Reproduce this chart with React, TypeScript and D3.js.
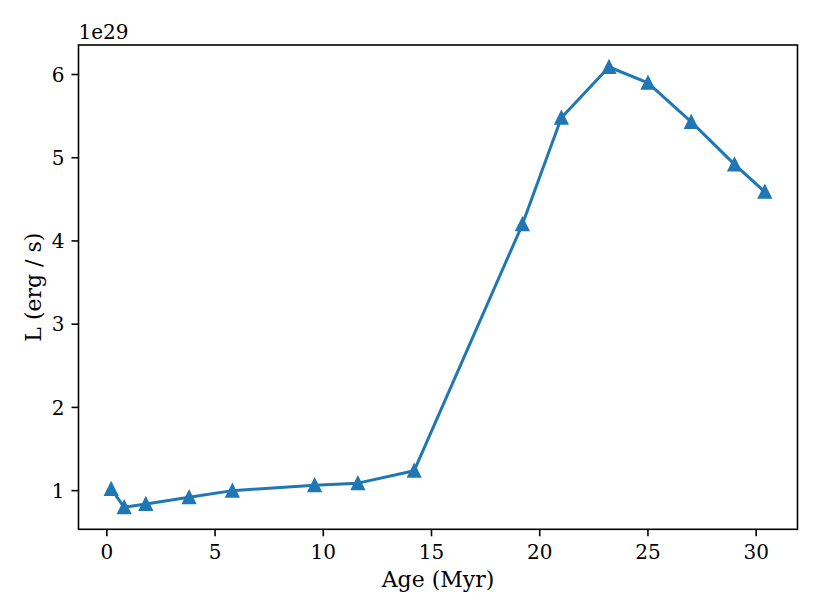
import React from "react";
import * as d3 from "d3";

const ages = [0.2, 0.8, 1.8, 3.8, 5.8, 9.6, 11.6, 14.2, 19.2, 21.0, 23.2, 25.0, 27.0, 29.0, 30.4];
const lum = [1.02, 0.8, 0.84, 0.92, 1.0, 1.065, 1.09, 1.24, 4.2, 5.48, 6.09, 5.9, 5.43, 4.92, 4.59];
const xTicks = [0, 5, 10, 15, 20, 25, 30];
const yTicks = [1, 2, 3, 4, 5, 6];

const W = 822, H = 616;
const L = 78.5, R = 797.5, T = 45, B = 529.3;
const font = "'DejaVu Serif', serif";
const color = "#1f77b4";

export default function App() {
  const xMin = d3.min(ages)!, xMax = d3.max(ages)!;
  const yMin = d3.min(lum)!, yMax = d3.max(lum)!;
  const xm = (xMax - xMin) * 0.05, ym = (yMax - yMin) * 0.05;
  const x = d3.scaleLinear().domain([xMin - xm, xMax + xm]).range([L, R]);
  const y = d3.scaleLinear().domain([yMin - ym, yMax + ym]).range([B, T]);
  const pts = ages.map((a, i) => [a, lum[i]] as [number, number]);
  const line = d3.line<[number, number]>().x(d => x(d[0])).y(d => y(d[1]));
  return (
    <svg width={W} height={H} style={{ position: "absolute", left: 0, top: 0 }}>
      <rect width={W} height={H} fill="white" />
      <path d={line(pts)!} fill="none" stroke={color} strokeWidth={3} strokeLinejoin="round" strokeLinecap="square" />
      {pts.map((d, i) => (
        <path key={i} transform={`translate(${x(d[0])},${y(d[1])})`} d="M0,-6L-6,6L6,6Z" fill={color} stroke={color} strokeWidth={2} strokeLinejoin="miter" />
      ))}
      <rect x={L} y={T} width={R - L} height={B - T} fill="none" stroke="black" strokeWidth={1.6} />
      {xTicks.map(t => (
        <g key={t}>
          <line x1={x(t)} x2={x(t)} y1={B} y2={B + 7} stroke="black" strokeWidth={1.6} />
          <text x={x(t)} y={559} textAnchor="middle" fontFamily={font} fontSize={20}>{t}</text>
        </g>
      ))}
      {yTicks.map(t => (
        <g key={t}>
          <line x1={L - 7} x2={L} y1={y(t)} y2={y(t)} stroke="black" strokeWidth={1.6} />
          <text x={L - 14} y={y(t) + 7.3} textAnchor="end" fontFamily={font} fontSize={20}>{t}</text>
        </g>
      ))}
      <text x={(L + R) / 2} y={586.5} textAnchor="middle" fontFamily={font} fontSize={22}>Age (Myr)</text>
      <text transform={`translate(40.5,${(T + B) / 2}) rotate(-90)`} textAnchor="middle" fontFamily={font} fontSize={22}>L (erg / s)</text>
      <text x={L} y={39} fontFamily={font} fontSize={20}>1e29</text>
    </svg>
  );
}
